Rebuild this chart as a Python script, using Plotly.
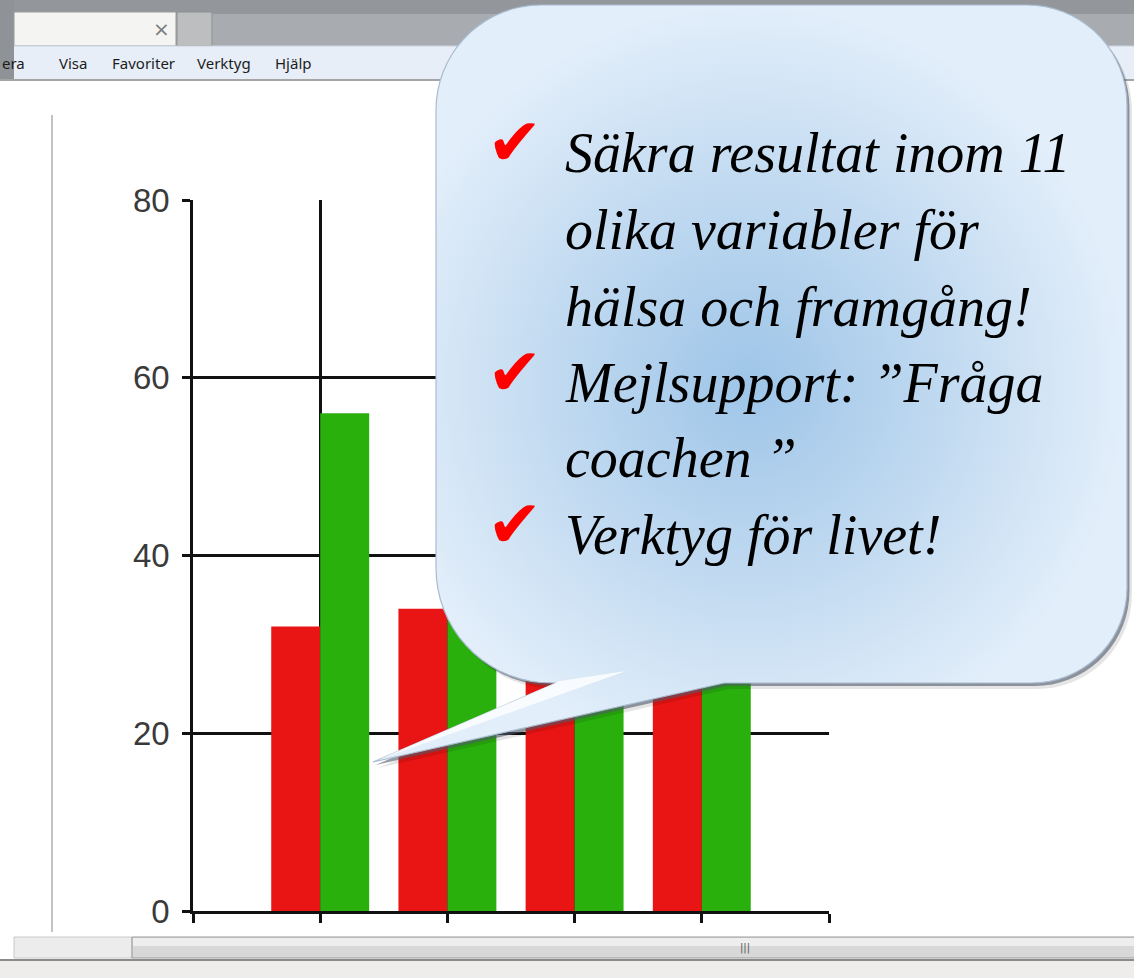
import numpy as np
import plotly.graph_objects as go

# ---------------- data ----------------
categories = [1, 2, 3, 4]
red_values = [32, 34, 30, 32]
green_values = [56, 40, 30, 28]
y_ticks = [0, 20, 40, 60, 80]
x_ticks = [0, 1, 2, 3, 4, 5]
menu_items = ["era", "Visa", "Favoriter", "Verktyg", "Hjälp"]
bubble_lines = [
    "Säkra resultat inom 11",
    "olika variabler för",
    "hälsa och framgång!",
    "Mejlsupport: \u201dFråga",
    "coachen \u201d",
    "Verktyg för livet!",
]
checked_lines = [0, 3, 5]

# ---------------- layout constants (pixels) ----------------
W, H = 1134, 978
PLOT_L, PLOT_R, PLOT_T, PLOT_B = 193, 829, 200, 911
menu_x = [0, 57, 110, 195, 273]
line_x = 563
line_base = [172, 249, 326, 402, 477, 554]
check_x = 514

fig = go.Figure()

# ---------------- bar chart ----------------
fig.add_trace(go.Bar(x=categories, y=red_values, marker=dict(color="#e91514", line_width=0),
                     showlegend=False, hoverinfo="skip"))
fig.add_trace(go.Bar(x=categories, y=green_values, marker=dict(color="#29b00d", line_width=0),
                     showlegend=False, hoverinfo="skip"))

# ---------------- bubble geometry (overlay axes in pixels) ----------------
def arc(cx, cy, r, a0, a1, n=18):
    a = np.radians(np.linspace(a0, a1, n))
    return list(cx + r * np.cos(a)), list(cy + r * np.sin(a))

L, R, T, B = 436, 1127, 5, 683
r_tl, r_tr, r_br, r_bl = 105, 100, 95, 115
tail_left, tail_right, tip = (556, B), (724, B), (373, 762)

bx, by = [], []
x_, y_ = arc(L + r_tl, T + r_tl, r_tl, 180, 270); bx += x_; by += y_
x_, y_ = arc(R - r_tr, T + r_tr, r_tr, 270, 360); bx += x_; by += y_
x_, y_ = arc(R - r_br, B - r_br, r_br, 0, 90); bx += x_; by += y_
bx += [tail_right[0], tip[0], tail_left[0]]; by += [tail_right[1], tip[1], tail_left[1]]
x_, y_ = arc(L + r_bl, B - r_bl, r_bl, 90, 180); bx += x_; by += y_
bx.append(bx[0]); by.append(by[0])
bx = np.array(bx); by = np.array(by)

# shadows
fig.add_trace(go.Scatter(x=bx + 5, y=by + 6, mode="lines", fill="toself",
                         fillcolor="rgba(0,0,0,0.10)", line=dict(width=0),
                         xaxis="x2", yaxis="y2", showlegend=False, hoverinfo="skip"))
fig.add_trace(go.Scatter(x=bx + 2.5, y=by + 3, mode="lines", fill="toself",
                         fillcolor="rgba(80,90,105,0.6)", line=dict(width=0),
                         xaxis="x2", yaxis="y2", showlegend=False, hoverinfo="skip"))
# bubble body
fig.add_trace(go.Scatter(x=bx, y=by, mode="lines", fill="toself",
                         fillgradient=dict(type="radial",
                                           colorscale=[[0, "#9ec5e8"], [0.55, "#c3dbf1"], [1, "#e2eefa"]]),
                         line=dict(color="#a9bccf", width=1.2),
                         xaxis="x2", yaxis="y2", showlegend=False, hoverinfo="skip"))
# tail highlight
fig.add_trace(go.Scatter(x=[tip[0] + 2, 560, 626, tip[0] + 2], y=[tip[1] - 1, 681, 671, tip[1] - 1],
                         mode="lines", fill="toself", fillcolor="rgba(255,255,255,0.8)",
                         line=dict(width=0), xaxis="x2", yaxis="y2",
                         showlegend=False, hoverinfo="skip"))

# ---------------- browser chrome shapes ----------------
shapes = []
def rect(x0, y0, x1, y1, fill, line=None, lw=0, layer="below"):
    shapes.append(dict(type="rect", xref="x2", yref="y2", x0=x0, y0=y0, x1=x1, y1=y1,
                       fillcolor=fill, line=dict(color=line or fill, width=lw), layer=layer))
def hline(x0, x1, y, color, w=1):
    shapes.append(dict(type="line", xref="x2", yref="y2", x0=x0, x1=x1, y0=y, y1=y,
                       line=dict(color=color, width=w), layer="below"))
def vline(x, y0, y1, color, w=1):
    shapes.append(dict(type="line", xref="x2", yref="y2", x0=x, x1=x, y0=y0, y1=y1,
                       line=dict(color=color, width=w), layer="below"))

# title bar
rect(0, 0, W, 14, "#93979c")
rect(0, 14, W, 46, "#a8acb1")
rect(0, 0, 14, 80, "#8f9398")
# tab
rect(14, 12, 176, 46, "#f4f4f2", "#9a9a9a", 1)
rect(177, 12, 212, 46, "#bcbec0", "#8e8e8e", 1)
# menu bar
rect(14, 46, W, 80, "#e7eef8")
hline(14, W, 46, "#c9d2dd", 1)
hline(0, W, 80, "#a5a5a5", 2)
# page
vline(52, 115, 932, "#c3c3c3", 2)
# scrollbar
rect(14, 937, 132, 958, "#ececec", "#c8c8c8", 1)
rect(132, 937, W + 2, 958, "#d8d8d8", "#9a9a9a", 1)
rect(133, 938, W + 2, 946, "#eeeeee")
hline(0, W, 960, "#8a8a8a", 2)
rect(0, 961, W, H, "#efedec")
fig.update_layout(shapes=shapes)

# ---------------- annotations ----------------
ann = []
for label, x in zip(menu_items, menu_x):
    ann.append(dict(x=x, y=63, xref="x2", yref="y2", text=label, showarrow=False,
                    xanchor="left", yanchor="middle",
                    font=dict(family="Noto Sans", size=15, color="#1c1c1c")))
ann.append(dict(x=161, y=29, xref="x2", yref="y2", text="\u00d7", showarrow=False,
                xanchor="center", yanchor="middle", font=dict(family="DejaVu Sans", size=20, color="#7d7d7d")))
ann.append(dict(x=745, y=948, xref="x2", yref="y2", text="|||", showarrow=False,
                xanchor="center", yanchor="middle", font=dict(family="DejaVu Sans", size=10, color="#555555")))

for i, (txt, base) in enumerate(zip(bubble_lines, line_base)):
    ann.append(dict(x=line_x, y=base, xref="x2", yref="y2", text="<i>" + txt + "</i>", showarrow=False,
                    xanchor="left", yanchor="bottom", yshift=-14,
                    font=dict(family="Liberation Serif", size=56, color="#000000")))
    if i in checked_lines:
        ann.append(dict(x=check_x, y=base - 30, xref="x2", yref="y2", text="\u2714", showarrow=False,
                        xanchor="center", yanchor="middle",
                        font=dict(family="DejaVu Sans", size=66, color="#ff0000")))
fig.update_layout(annotations=ann)

# ---------------- axes & layout ----------------
fig.update_layout(
    template="none",
    width=W, height=H,
    autosize=False,
    margin=dict(l=0, r=0, t=0, b=0, pad=0, autoexpand=False),
    paper_bgcolor="#ffffff",
    plot_bgcolor="rgba(0,0,0,0)",
    barmode="group", bargap=0.23, bargroupgap=0,
    xaxis=dict(domain=[PLOT_L / W, PLOT_R / W], range=[0, 5], tickvals=x_ticks,
               ticktext=[""] * len(x_ticks), ticks="outside", ticklen=9, tickwidth=2.5,
               tickcolor="#111111", showgrid=True, gridcolor="#111111", gridwidth=2.5,
               showline=True, linecolor="#111111", linewidth=2.5, zeroline=False,
               fixedrange=True, anchor="y", automargin=False),
    yaxis=dict(domain=[1 - PLOT_B / H, 1 - PLOT_T / H], range=[0, 80], tickvals=y_ticks,
               ticks="outside", ticklen=8, tickwidth=2.5, tickcolor="#111111",
               showgrid=True, gridcolor="#111111", gridwidth=2.5,
               showline=True, linecolor="#111111", linewidth=2.5, zeroline=False,
               ticklabelstandoff=6,
               tickfont=dict(family="Liberation Sans", size=33, color="#3a3a3a"),
               fixedrange=True, anchor="x", automargin=False),
    xaxis2=dict(domain=[0, 1], range=[0, W], visible=False, anchor="y2", fixedrange=True,
                automargin=False),
    yaxis2=dict(domain=[0, 1], range=[H, 0], visible=False, anchor="x2", fixedrange=True,
                automargin=False),
)

fig.write_html("out.html", config={"displayModeBar": False},
               post_script="document.body.style.margin='0';")
